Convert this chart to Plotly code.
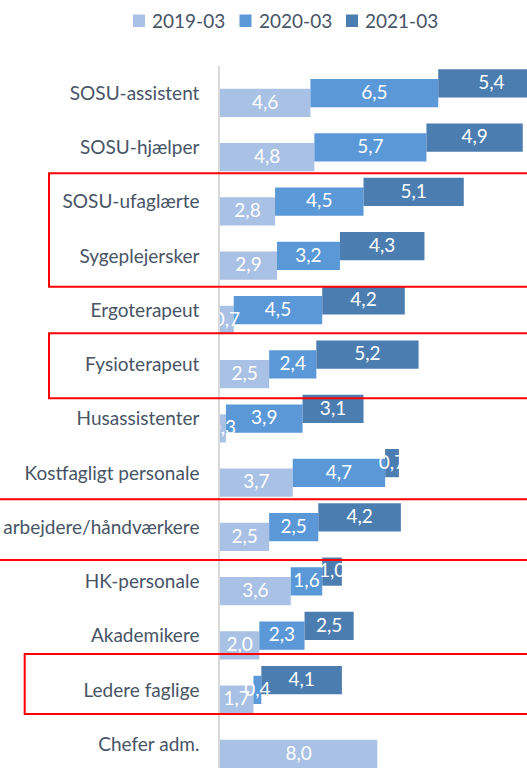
import plotly.graph_objects as go

# Personnel groups, top to bottom
categories = [
    "SOSU-assistent", "SOSU-hjælper", "SOSU-ufaglærte", "Sygeplejersker",
    "Ergoterapeut", "Fysioterapeut", "Husassistenter", "Kostfagligt personale",
    "arbejdere/håndværkere", "HK-personale", "Akademikere", "Ledere faglige",
    "Chefer adm.",
]
series_names = ["2019-03", "2020-03", "2021-03"]
v2019 = [4.6, 4.8, 2.8, 2.9, 0.7, 2.5, 0.3, 3.7, 2.5, 3.6, 2.0, 1.7, 8.0]
v2020 = [6.5, 5.7, 4.5, 3.2, 4.5, 2.4, 3.9, 4.7, 2.5, 1.6, 2.3, 0.4, None]
v2021 = [5.4, 4.9, 5.1, 4.3, 4.2, 5.2, 3.1, 0.7, 4.2, 1.0, 2.5, 4.1, None]

colors = ["#a9c1e4", "#5a98d8", "#4c7db1"]
text_color = "#475466"
font_family = "Lato, 'Open Sans', sans-serif"

# layout geometry (px)
W, H = 527, 768
ML, MT = 220, 66
PW, PH = W - ML, H - MT
PITCH = 54.25               # px per category
X_UNIT = 19.66              # px per value unit
BAR_W = 0.52                # bar thickness in category units
STEP = 0.18                 # vertical stagger between series
shifts = [STEP, 0.0, -STEP]

idx = list(range(len(categories)))
y_max = -0.5 + PH / PITCH
x_max = PW / X_UNIT

fig = go.Figure()

running = [0.0] * len(categories)
label_traces = []
for name, vals, col, sh in zip(series_names, [v2019, v2020, v2021], colors, shifts):
    xs, bases, ys, lx, ly, lt = [], [], [], [], [], []
    for i, v in enumerate(vals):
        if v is None:
            continue
        xs.append(v)
        bases.append(running[i])
        ys.append(i)
        lx.append(running[i] + v / 2)
        ly.append(i + sh + 0.02)
        lt.append(f"{v:.1f}".replace(".", ","))
        running[i] += v
    fig.add_trace(go.Bar(
        name=name, orientation="h", x=xs, y=ys, base=bases,
        width=BAR_W, offset=sh - BAR_W / 2,
        marker=dict(color=col, line=dict(width=0)),
        showlegend=False, hoverinfo="skip",
    ))
    label_traces.append(go.Scatter(
        x=lx, y=ly, text=lt, mode="text", textposition="middle center",
        textfont=dict(color="white", size=19, family=font_family),
        cliponaxis=True, showlegend=False, hoverinfo="skip",
    ))

# value labels sit above every bar
for t in label_traces:
    fig.add_trace(t)

shapes = []
annotations = []

# legend: colour squares + series names along the top
def px_x(px):
    return (px - ML) / PW

def px_y(py):
    return 1 - (py - MT) / PH

legend_sq = [133, 239.5, 346]
for name, col, x0 in zip(series_names, colors, legend_sq):
    shapes.append(dict(type="rect", xref="paper", yref="paper",
                       x0=px_x(x0), x1=px_x(x0 + 12), y0=px_y(27), y1=px_y(14.5),
                       fillcolor=col, line=dict(width=0)))
    annotations.append(dict(xref="paper", yref="paper", x=px_x(x0 + 17), y=px_y(20.5),
                            text=name, showarrow=False, xanchor="left", yanchor="middle",
                            font=dict(size=19, color=text_color, family=font_family)))

# red highlight frames around selected groups (y in category units)
frames = [
    (49, 1.478, 3.568),
    (49, 4.427, 5.625),
    (-10, 7.487, 8.606),
    (24.7, 10.339, 11.445),
]
for left, top, bottom in frames:
    shapes.append(dict(type="rect", xref="paper", yref="y",
                       x0=px_x(left), x1=px_x(W + 20), y0=top, y1=bottom,
                       line=dict(color="#ff0000", width=2), fillcolor="rgba(0,0,0,0)",
                       layer="above"))

fig.update_layout(
    width=W, height=H,
    margin=dict(l=ML, r=0, t=MT, b=0, pad=0),
    paper_bgcolor="white", plot_bgcolor="white",
    barmode="overlay",
    showlegend=False,
    shapes=shapes, annotations=annotations,
    xaxis=dict(range=[0, x_max], showgrid=False, zeroline=False, showline=False,
               showticklabels=False, ticks="", fixedrange=True),
    yaxis=dict(range=[y_max, -0.5], tickmode="array", tickvals=idx, ticktext=categories,
               showgrid=False, zeroline=False, showline=True, linecolor="#d9d9d9",
               linewidth=1.5, ticks="", ticklabelstandoff=15, automargin=False,
               tickfont=dict(size=19, color=text_color, family=font_family)),
)

fig.write_html("out.html")
